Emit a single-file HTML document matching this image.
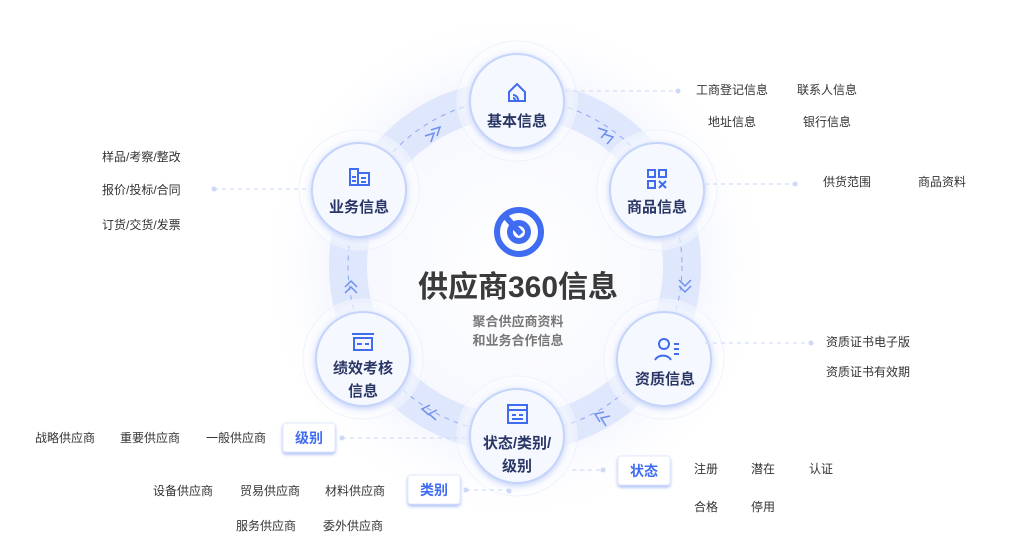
<!DOCTYPE html>
<html><head><meta charset="utf-8"><style>
html,body{margin:0;padding:0;background:#fff;}
svg{display:block;font-family:"Liberation Sans","Noto Sans CJK SC",sans-serif;}
.n{font-size:15px;font-weight:700;fill:#2a3766;text-anchor:middle;}
.s{font-size:12px;fill:#333;}
.t{font-size:14px;font-weight:700;fill:#3f6cf0;text-anchor:middle;}
</style></head><body>
<svg width="1021" height="560" viewBox="0 0 1021 560" xmlns="http://www.w3.org/2000/svg">
<defs>
<radialGradient id="glow" cx="50%" cy="50%" r="50%">
<stop offset="0%" stop-color="#ffffff" stop-opacity="1"/>
<stop offset="70%" stop-color="#f5f7fe" stop-opacity="1"/>
<stop offset="100%" stop-color="#ffffff" stop-opacity="0"/>
</radialGradient>
<radialGradient id="halo" cx="50%" cy="50%" r="50%">
<stop offset="75%" stop-color="#f3f6fe" stop-opacity="1"/>
<stop offset="100%" stop-color="#ffffff" stop-opacity="0.3"/>
</radialGradient>
<filter id="sh" x="-30%" y="-30%" width="160%" height="160%"><feDropShadow dx="0" dy="2" stdDeviation="3" flood-color="#a9bdf5" flood-opacity="0.6"/></filter>
<filter id="sh2" x="-30%" y="-30%" width="160%" height="160%"><feDropShadow dx="0" dy="2" stdDeviation="1.5" flood-color="#5f86f0" flood-opacity="0.55"/></filter>
</defs>
<circle cx="515" cy="266" r="260" fill="url(#glow)"/>
<circle cx="515" cy="266" r="167" fill="none" stroke="#dfe7fc" stroke-width="38"/>
<circle cx="515" cy="266" r="167" fill="none" stroke="#8ea9f3" stroke-width="1" stroke-dasharray="5 5"/>
<g fill="none" stroke="#6d8ff0" stroke-width="1.5">
<path d="M425 136 l9 -3 -3 9 M431 130 l9 -3 -3 9"/>
<path d="M598 128 l9 3 -6 7 M604 134 l9 3 -6 7"/>
<path d="M679 280 l6 6 6 -6 M679 286 l6 6 6 -6"/>
<path d="M610 416 l-9 2 5 8 M604 412 l-9 2 5 8"/>
<path d="M437 410 l-8 4 7 6 M430 405 l-8 4 7 6"/>
<path d="M345 287 l6 -6 6 6 M345 293 l6 -6 6 6"/>
</g>
<g>
<circle cx="517" cy="101" r="60" fill="url(#halo)" stroke="#eef2fd"/>
<circle cx="517" cy="101" r="47" fill="#f6f8ff" stroke="#c5d4fa" stroke-width="2" filter="url(#sh)"/>
<circle cx="657" cy="190" r="60" fill="url(#halo)" stroke="#eef2fd"/>
<circle cx="657" cy="190" r="47" fill="#f6f8ff" stroke="#c5d4fa" stroke-width="2" filter="url(#sh)"/>
<circle cx="664" cy="359" r="60" fill="url(#halo)" stroke="#eef2fd"/>
<circle cx="664" cy="359" r="47" fill="#f6f8ff" stroke="#c5d4fa" stroke-width="2" filter="url(#sh)"/>
<circle cx="517" cy="436" r="60" fill="url(#halo)" stroke="#eef2fd"/>
<circle cx="517" cy="436" r="47" fill="#f6f8ff" stroke="#c5d4fa" stroke-width="2" filter="url(#sh)"/>
<circle cx="363" cy="359" r="60" fill="url(#halo)" stroke="#eef2fd"/>
<circle cx="363" cy="359" r="47" fill="#f6f8ff" stroke="#c5d4fa" stroke-width="2" filter="url(#sh)"/>
<circle cx="359" cy="190" r="60" fill="url(#halo)" stroke="#eef2fd"/>
<circle cx="359" cy="190" r="47" fill="#f6f8ff" stroke="#c5d4fa" stroke-width="2" filter="url(#sh)"/>
</g>
<g fill="none" stroke="#3f6cf0" stroke-width="2">
<path d="M509 92 l8 -8 8 8 v9 h-16 z"/>
<path d="M513 95 a5 5 0 0 1 5 5 M513 98 a2 2 0 0 1 2 2"/>
<rect x="648" y="170" width="7" height="7"/><rect x="659" y="170" width="7" height="7"/><rect x="648" y="181" width="7" height="7"/>
<path d="M659 181 l7 7 M666 181 l-7 7"/>
<rect x="350" y="169" width="8" height="16"/><rect x="358" y="173" width="11" height="12"/>
<path d="M352 177 h4 M352 181 h4 M361 178 h5 M361 182 h5"/>
<circle cx="664" cy="344" r="5"/><path d="M655 360 a9 8 0 0 1 16 0 M674 344 h5 M674 349 h5 M674 354 h5"/>
<rect x="508" y="405" width="19" height="18"/><path d="M508 410 h19 M512 415 h4 M519 415 h4 M512 419 h11"/>
<path d="M352 334 h22 M354 338 h18 v12 h-18 z M357 344 h5 M365 344 h4"/>
</g>
<text class="n" x="517" y="126">基本信息</text>
<text class="n" x="657" y="212">商品信息</text>
<text class="n" x="665" y="384">资质信息</text>
<text class="n" x="517" y="448">状态/类别/</text>
<text class="n" x="517" y="471">级别</text>
<text class="n" x="363" y="373">绩效考核</text>
<text class="n" x="363" y="396">信息</text>
<text class="n" x="359" y="212">业务信息</text>
<g fill="none" stroke="#3f6cf0" stroke-width="6">
<circle cx="519" cy="232" r="22"/>
<circle cx="519" cy="232" r="9"/>
<path d="M505 216 L521 234"/>
</g>
<text x="518" y="297" text-anchor="middle" font-size="30" font-weight="700" fill="#3a3a3a">供应商360信息</text>
<text x="518" y="326" text-anchor="middle" font-size="13" font-weight="700" fill="#777">聚合供应商资料</text>
<text x="518" y="345" text-anchor="middle" font-size="13" font-weight="700" fill="#777">和业务合作信息</text>
<g stroke="#d3ddf8" stroke-width="1.2" stroke-dasharray="4 4" fill="none">
<path d="M565 91 H678"/><path d="M705 184 H795"/><path d="M705 343 H810"/>
<path d="M214 189 H308"/><path d="M342 438 H465"/><path d="M466 490 H510"/><path d="M572 470 H600"/>
</g>
<g fill="#cdd8f8"><circle cx="678" cy="91" r="2.5"/><circle cx="795" cy="184" r="2.5"/><circle cx="811" cy="343" r="2.5"/><circle cx="214" cy="189" r="2.5"/><circle cx="342" cy="438" r="2.5"/><circle cx="466" cy="490" r="2.5"/><circle cx="509" cy="491" r="2.5"/><circle cx="603" cy="470" r="2.5"/></g>
<g class="s">
<text x="696" y="94">工商登记信息</text><text x="797" y="94">联系人信息</text>
<text x="708" y="126">地址信息</text><text x="803" y="126">银行信息</text>
<text x="823" y="186">供货范围</text><text x="918" y="186">商品资料</text>
<text x="826" y="346">资质证书电子版</text><text x="826" y="376">资质证书有效期</text>
<text x="694" y="473">注册</text><text x="751" y="473">潜在</text><text x="809" y="473">认证</text>
<text x="694" y="511">合格</text><text x="751" y="511">停用</text>
<text x="102" y="161">样品/考察/整改</text><text x="102" y="194">报价/投标/合同</text><text x="102" y="229">订货/交货/发票</text>
<text x="35" y="442">战略供应商</text><text x="120" y="442">重要供应商</text><text x="206" y="442">一般供应商</text>
<text x="153" y="495">设备供应商</text><text x="240" y="495">贸易供应商</text><text x="325" y="495">材料供应商</text>
<text x="236" y="530">服务供应商</text><text x="323" y="530">委外供应商</text>
</g>
<rect x="283" y="423" width="52" height="29" rx="3" fill="#fff" stroke="#e4eafb" filter="url(#sh2)"/>
<text class="t" x="309" y="443">级别</text>
<rect x="408" y="475" width="52" height="29" rx="3" fill="#fff" stroke="#e4eafb" filter="url(#sh2)"/>
<text class="t" x="434" y="495">类别</text>
<rect x="618" y="456" width="52" height="29" rx="3" fill="#fff" stroke="#e4eafb" filter="url(#sh2)"/>
<text class="t" x="644" y="476">状态</text>
</svg>
</body></html>
